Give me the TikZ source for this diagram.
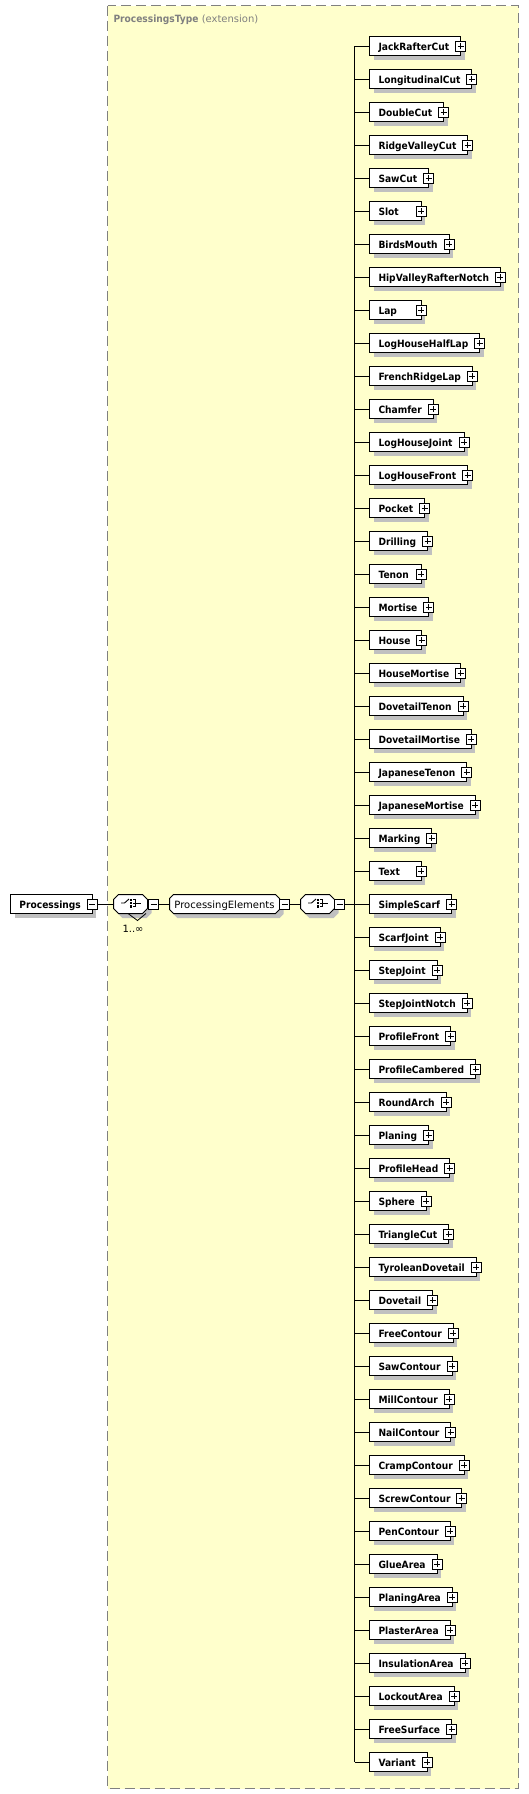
\documentclass[tikz,border=0pt]{standalone}
\usepackage{fontspec}
\setmainfont{DejaVu Sans}
\newfontfamily\elfont[FakeStretch=0.91]{DejaVu Sans Bold}
\usetikzlibrary{shadows}
\definecolor{bg}{RGB}{255,255,204}
\definecolor{shad}{RGB}{192,192,192}
\definecolor{frm}{RGB}{128,128,128}
\newcommand\minw[1]{\setbox0\hbox{#1}\ifdim\wd0<31pt\hbox to 31pt{\box0\hfil}\else\box0\fi}
\newcommand\octpath[5]{({#1+#5},#2) -- ({#3-#5},#2) -- (#3,{#2+#5}) -- (#3,{#4-#5}) -- ({#3-#5},#4) -- ({#1+#5},#4) -- (#1,{#4-#5}) -- (#1,{#2+#5}) -- cycle}
\newcommand\choiceicon[2]{%
  \draw[line width=0.9pt] ({#1-10},{#2-1}) -- ({#1-6.5},{#2-1}) -- ({#1-2},{#2-5});
  \fill ({#1-1},{#2-5.5}) rectangle ({#1+1.2},{#2-3.3});
  \fill ({#1-1},{#2-2.1}) rectangle ({#1+1.2},{#2+0.1});
  \fill ({#1-1},{#2+1.3}) rectangle ({#1+1.2},{#2+3.5});
  \draw[line width=0.9pt] ({#1+2},{#2-4.4}) -- ({#1+4.5},{#2-4.4}) -- ({#1+4.5},{#2+2.4}) -- ({#1+2},{#2+2.4});
  \draw[line width=0.9pt] ({#1+2},{#2-1}) -- ({#1+9.5},{#2-1});
}
\begin{document}
\begin{tikzpicture}[x=1pt,y=-1pt,line width=1pt,
  elbox/.style={draw, fill=white, anchor=west, outer sep=0pt, inner xsep=0pt, inner ysep=0pt,
    minimum height=19pt, text height=9pt, text depth=0pt,
    font=\elfont\fontsize{10}{12}\selectfont,
    drop shadow={shadow xshift=4pt, shadow yshift=-4.5pt, fill=shad, opacity=1, draw=none}},
  pmbox/.style={draw, fill=white, minimum size=10pt, inner sep=0pt, outer sep=0pt},
  hid/.style={draw=none, inner sep=0pt, outer sep=0pt, minimum height=19pt},
]
\useasboundingbox (0,0) rectangle (529,1794);
\fill[white] (0,0) rectangle (529,1794);
% frame
\draw[frm, fill=bg, dash pattern=on 10pt off 5pt] (107.5,5.5) rectangle (518.5,1788.5);
\node[anchor=base west, inner sep=0pt, text=frm, font=\fontsize{10}{12}\selectfont] (ttl) at (113,22)
  {{\elfont ProcessingsType} (extension)};

% root element
\node[elbox] (proc) at (10.5,904) {\kern9pt\minw{Processings}\kern11.5pt};
\node[pmbox] (procm) at (proc.east) {};
\draw ([xshift=-3pt]procm.center) -- ([xshift=3pt]procm.center);

% choice 1
\fill[shad] \octpath{117.5}{899}{151.5}{918}{5};
\draw[line width=0.8pt] (128,913.5) -- (137.5,920.5) -- (146,913.5);
\filldraw[fill=white] \octpath{113.5}{894.5}{147.5}{913.5}{5};
\node[hid, minimum width=34pt] (c1) at (130.5,904) {};
\choiceicon{131}{904}
\node[pmbox] (c1m) at (153.5,904) {};
\draw ([xshift=-3pt]c1m.center) -- ([xshift=3pt]c1m.center);
\node[anchor=base west, inner sep=0pt, font=\fontsize{10}{12}\selectfont] (mult) at (122,932) {1..∞};

% group ProcessingElements
\fill[shad] \octpath{173.5}{899}{283.5}{918}{4};
\filldraw[fill=white] \octpath{169.5}{894.5}{279.5}{913.5}{4};
\node[hid, minimum width=110pt, text height=9pt, text depth=0pt, font=\fontsize{10}{12}\selectfont] (pe) at (224.5,904) {ProcessingElements};
\node[pmbox] (pem) at (284.5,904) {};
\draw ([xshift=-3pt]pem.center) -- ([xshift=3pt]pem.center);

% choice 2
\fill[shad] \octpath{304.5}{899}{338.5}{918}{5};
\filldraw[fill=white] \octpath{300.5}{894.5}{334.5}{913.5}{5};
\node[hid, minimum width=34pt] (c2) at (317.5,904) {};
\choiceicon{318}{904}
\node[pmbox] (c2m) at (339.5,904) {};
\draw ([xshift=-3pt]c2m.center) -- ([xshift=3pt]c2m.center);

% connectors on main row
\draw (procm.east) -- (c1.west);
\draw (c1m.east) -- (pe.west);
\draw (pem.east) -- (c2.west);

% children
\foreach \n [count=\i from 0] in {JackRafterCut,LongitudinalCut,DoubleCut,RidgeValleyCut,SawCut,Slot,BirdsMouth,HipValleyRafterNotch,Lap,LogHouseHalfLap,FrenchRidgeLap,Chamfer,LogHouseJoint,LogHouseFront,Pocket,Drilling,Tenon,Mortise,House,HouseMortise,DovetailTenon,DovetailMortise,JapaneseTenon,JapaneseMortise,Marking,Text,SimpleScarf,ScarfJoint,StepJoint,StepJointNotch,ProfileFront,ProfileCambered,RoundArch,Planing,ProfileHead,Sphere,TriangleCut,TyroleanDovetail,Dovetail,FreeContour,SawContour,MillContour,NailContour,CrampContour,ScrewContour,PenContour,GlueArea,PlaningArea,PlasterArea,InsulationArea,LockoutArea,FreeSurface,Variant}{
  \pgfmathsetmacro\yy{46+33*\i}
  \coordinate (t\n) at (354.5,\yy);
  \node[elbox] (\n) at (369.5,\yy) {\kern9pt\minw{\n}\kern11.5pt};
  \draw (t\n) -- (\n.west);
  \node[pmbox] (\n-p) at (\n.east) {};
  \draw ([xshift=-3pt]\n-p.center) -- ([xshift=3pt]\n-p.center);
  \draw ([yshift=-3pt]\n-p.center) -- ([yshift=3pt]\n-p.center);
}
\draw (tJackRafterCut) -- (tVariant);
\draw (c2m.east) -- (tSimpleScarf);
\end{tikzpicture}
\end{document}
